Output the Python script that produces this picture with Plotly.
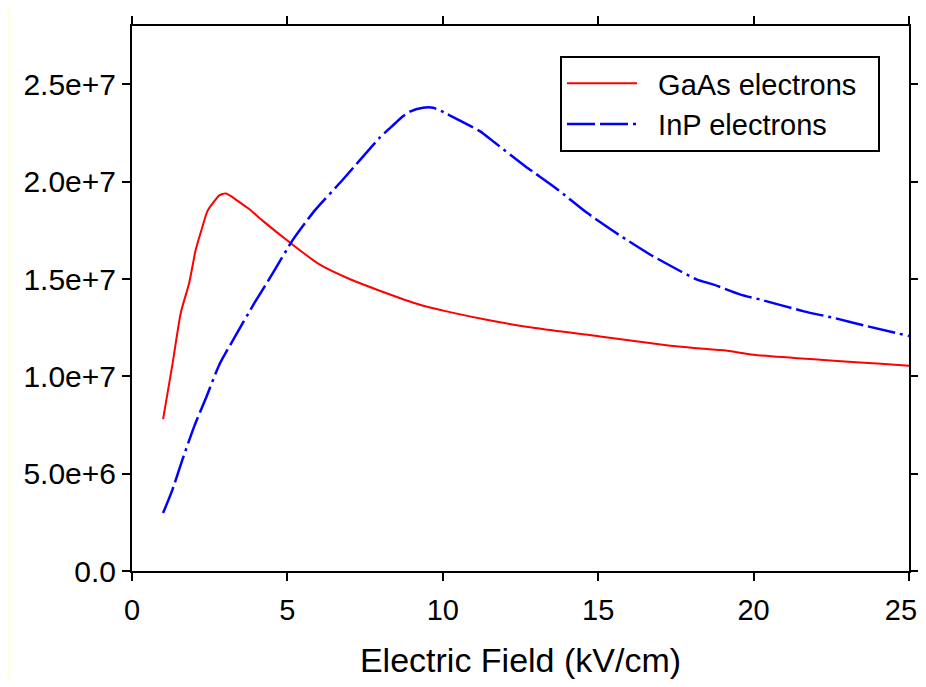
import plotly.graph_objects as go

# GaAs electrons (red, solid)
gaas_field = [1.0, 1.3, 1.57, 1.84, 2.05, 2.25, 2.43, 2.65, 2.81, 3.02, 3.24, 3.5, 3.77, 4.2, 5.06, 6.03, 7.0, 7.97,
              9.26, 10.12, 11.41, 12.97, 15.06, 17.32, 18.07, 19.15, 20.0, 25.0]
gaas_vel = [7.8e6, 1.06e7, 1.327e7, 1.48e7, 1.65e7, 1.76e7, 1.85e7, 1.90e7, 1.93e7, 1.94e7, 1.92e7, 1.89e7, 1.86e7,
            1.80e7, 1.69e7, 1.575e7, 1.50e7, 1.44e7, 1.368e7, 1.334e7, 1.291e7, 1.248e7, 1.205e7, 1.157e7, 1.146e7,
            1.132e7, 1.111e7, 1.055e7]

# InP electrons (blue, dash-dot)
inp_field = [1.0, 1.3, 1.62, 2.0, 2.4, 2.81, 3.35, 3.94, 4.53, 5.17, 5.87, 6.78, 7.97, 8.4, 8.67, 8.94, 9.36, 9.69,
             10.12, 10.6, 11.19, 11.68, 12.65, 13.67, 14.64, 15.66, 16.68, 17.65, 18.18, 18.72, 19.58, 20.23,
             21.62, 22.59, 23.67, 25.0]
inp_vel = [2.98e6, 4.17e6, 5.71e6, 7.42e6, 8.97e6, 1.06e7, 1.214e7, 1.377e7, 1.53e7, 1.70e7, 1.85e7, 2.01e7, 2.226e7,
           2.29e7, 2.33e7, 2.36e7, 2.38e7, 2.38e7, 2.35e7, 2.31e7, 2.26e7, 2.20e7, 2.08e7, 1.963e7, 1.84e7, 1.728e7,
           1.625e7, 1.54e7, 1.497e7, 1.471e7, 1.42e7, 1.394e7, 1.334e7, 1.30e7, 1.257e7, 1.207e7]

x_ticks = [0, 5, 10, 15, 20, 25]
x_tick_labels = ["0", "5", "10", "15", "20", "25"]
y_ticks = [0, 5e6, 1e7, 1.5e7, 2e7, 2.5e7]
y_tick_labels = ["0.0", "5.0e+6", "1.0e+7", "1.5e+7", "2.0e+7", "2.5e+7"]
series_names = ["GaAs electrons", "InP electrons"]

FONT = "Liberation Sans, Arial, sans-serif"
NB = "\u00a0"

# last x label: pad so it stays fully inside the page edge
x_tick_text = x_tick_labels[:-1] + [x_tick_labels[-1] + NB * 2]

fig = go.Figure()
fig.add_trace(go.Scatter(x=gaas_field, y=gaas_vel, mode="lines", name=NB * 2 + series_names[0] + NB * 2,
                         line=dict(color="#FF0000", width=2, shape="spline", smoothing=0.6)))
fig.add_trace(go.Scatter(x=inp_field, y=inp_vel, mode="lines", name=NB * 2 + series_names[1] + NB * 2,
                         line=dict(color="#0000FF", width=2.5, shape="spline", smoothing=0.6,
                                   dash="28px,5px,28px,5px,3px,5px")))

# page body has an 8px margin, so figure coords = screen coords - 8
W, H = 918, 671
L, R, T, B = 124, 17, 18, 108
pw = W - L - R
ph = H - T - B

shapes = [dict(type="rect", xref="paper", yref="paper",
               x0=-L / pw, x1=(3 - L) / pw, y0=-B / ph, y1=(H - B) / ph,
               fillcolor="#FFFDEA", line=dict(width=0), layer="below")]

fig.update_layout(
    width=W, height=H,
    margin=dict(l=L, r=R, t=T, b=B, autoexpand=False),
    paper_bgcolor="white", plot_bgcolor="white",
    font=dict(family=FONT, size=29, color="black"),
    showlegend=True,
    legend=dict(x=(552 - L) / pw, xanchor="left", y=(H - B - 48) / ph, yanchor="top",
                bordercolor="black", borderwidth=2, bgcolor="white",
                font=dict(family=FONT, size=29, color="black"),
                itemwidth=70, tracegroupgap=0),
    xaxis=dict(range=[0, 25], tickvals=x_ticks, ticktext=x_tick_text, ticks="outside", ticklen=8,
               tickwidth=2, tickcolor="black", showline=True, linecolor="black", linewidth=2, mirror="ticks",
               showgrid=False, zeroline=False, automargin=False, ticklabelstandoff=4,
               ticklabeloverflow="allow",
               tickfont=dict(family=FONT, size=29),
               title=dict(text="Electric Field (kV/cm)", font=dict(family=FONT, size=34), standoff=28)),
    yaxis=dict(range=[0, 2.8e7], tickvals=y_ticks, ticktext=y_tick_labels, ticks="outside", ticklen=8,
               tickwidth=2, tickcolor="black", showline=True, linecolor="black", linewidth=2,
               mirror="ticks", showgrid=False, zeroline=False, automargin=False,
               tickfont=dict(family=FONT, size=30)),
    shapes=shapes,
)

fig.write_html("out.html")
